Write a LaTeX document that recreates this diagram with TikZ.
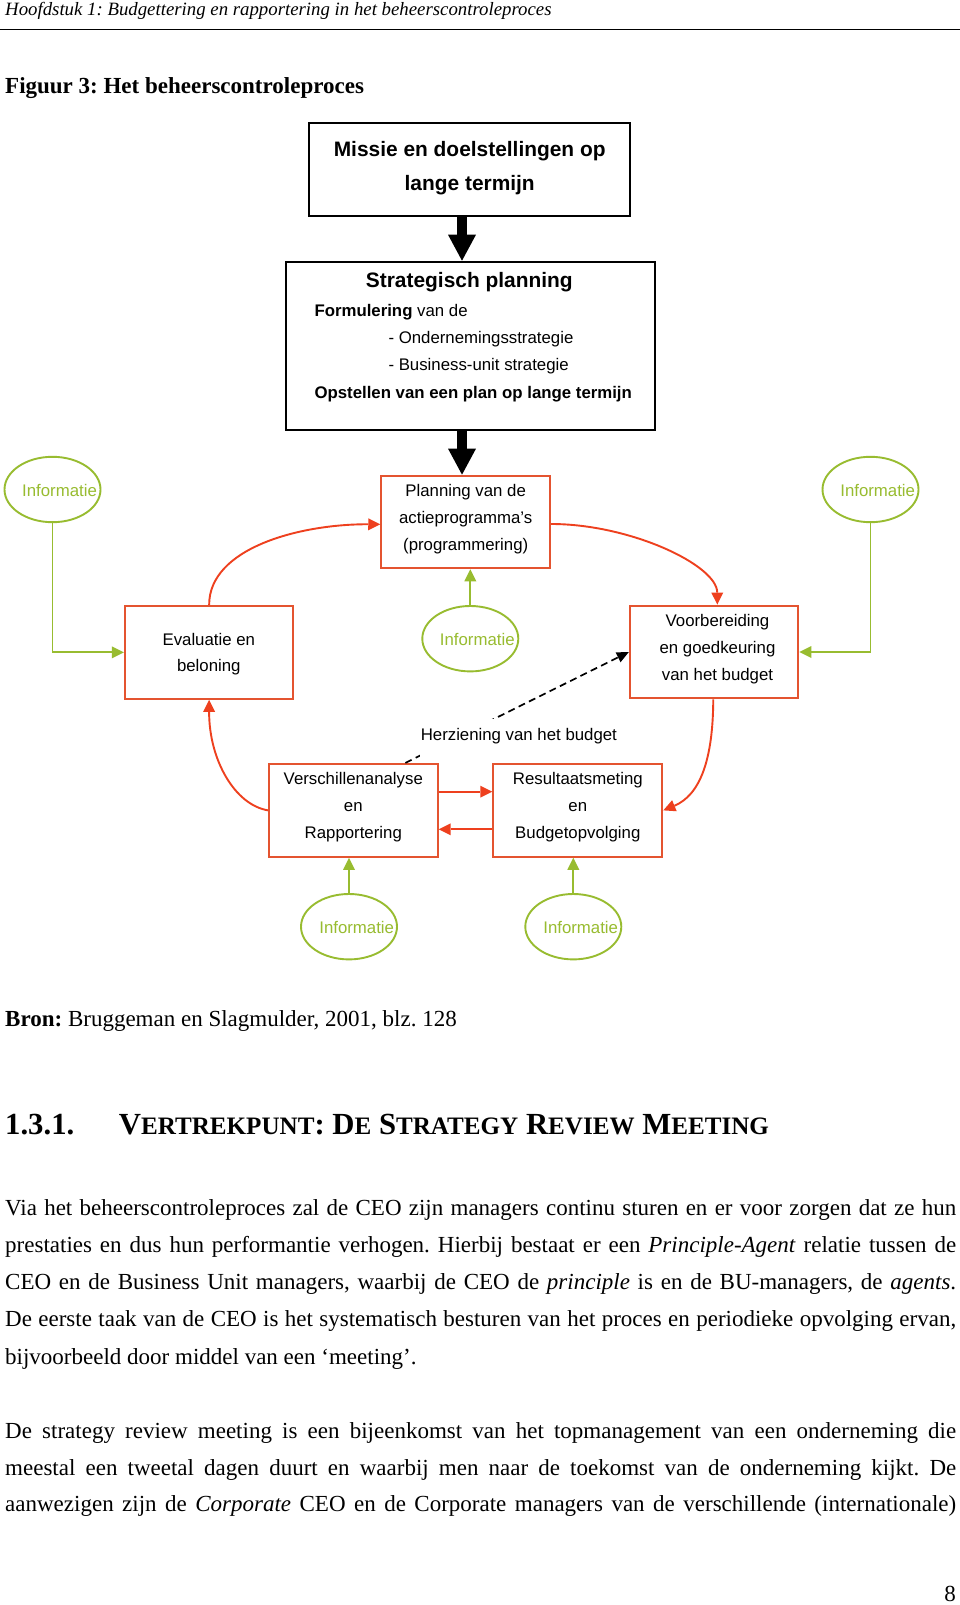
\documentclass[tikz,border=0pt]{standalone}
\usepackage{fontspec}
\setmainfont{Liberation Serif}
\newfontfamily\arialf{Liberation Sans}
\usetikzlibrary{arrows.meta,shapes.geometric,calc}
\definecolor{boxred}{RGB}{228,84,48}
\definecolor{arrred}{RGB}{238,64,30}
\definecolor{infogreen}{RGB}{152,188,48}
\newcommand{\smc}[1]{{\fontsize{25.1pt}{26pt}\selectfont #1}}
\frenchspacing
\begin{document}
\begin{tikzpicture}[x=1pt,y=-1pt,
  box/.style={draw=boxred,line width=2.1pt,minimum width=168.5pt,minimum height=92.8pt,inner sep=0pt},
  blackbox/.style={draw=black,line width=2pt,inner sep=0pt},
  info/.style={ellipse,draw=infogreen,line width=1.9pt,minimum width=96pt,minimum height=65.4pt,inner sep=0pt},
  infotxt/.style={text=infogreen,font=\arialf\fontsize{16.8pt}{20pt}\selectfont,anchor=base,inner sep=0pt},
  btxt/.style={font=\arialf\fontsize{16.8pt}{20pt}\selectfont,anchor=base,inner sep=0pt},
  bigtxt/.style={font=\arialf\bfseries\fontsize{20.9pt}{24pt}\selectfont,anchor=base,inner sep=0pt},
  ltxt/.style={font=\arialf\fontsize{16.8pt}{20pt}\selectfont,anchor=base west,inner sep=0pt},
  serif/.style={font=\fontsize{23pt}{28pt}\selectfont,anchor=base west,inner sep=0pt},
  redarr/.style={draw=arrred,line width=1.9pt,-{Triangle[length=12pt,width=12pt,line width=0pt]}},
  greenarr/.style={draw=infogreen,line width=1.9pt,-{Triangle[length=12pt,width=12pt,line width=0pt]}},
  fatarr/.style={draw=black,line width=10pt,-{Triangle[length=26pt,width=28pt,line width=0pt]}},
]
\useasboundingbox (0,0) rectangle (960,1605);
\fill[white] (0,0) rectangle (960,1605);

% header
\node[anchor=base west,inner sep=0pt,font=\itshape\fontsize{18.8pt}{22pt}\selectfont] (hdr) at (5,15.5) {Hoofdstuk 1: Budgettering en rapportering in het beheerscontroleproces};
\draw[line width=1.5pt] (0,29.7) -- (960,29.7);
\node[serif,font=\bfseries\fontsize{23pt}{28pt}\selectfont] (fig) at (5,94) {Figuur 3: Het beheerscontroleproces};

% top boxes
\node[blackbox,minimum width=320.7pt,minimum height=93.3pt] (missie) at (469.65,169.35) {};
\node[bigtxt] (missie1) at (469.7,156.7) {Missie en doelstellingen op};
\node[bigtxt] (missie2) at (469.7,190.7) {lange termijn};

\node[blackbox,minimum width=369pt,minimum height=168.3pt] (strat) at (470.5,345.85) {};
\node[bigtxt] (strat0) at (469.3,287.3) {Strategisch planning};
\node[ltxt] (strat1) at (314.3,316.7) {\textbf{Formulering} van de};
\node[ltxt] (strat2) at (388.3,343.3) {- Ondernemingsstrategie};
\node[ltxt] (strat3) at (388.3,370) {- Business-unit strategie};
\node[ltxt,font=\arialf\bfseries\fontsize{16.8pt}{20pt}\selectfont] (strat4) at (314.3,398.3) {Opstellen van een plan op lange termijn};

% process boxes
\node[box,minimum width=168.8pt,minimum height=92.6pt] (planning) at (465.7,522) {};
\node[btxt] (plan1) at (465.7,496.7) {Planning van de};
\node[btxt] (plan2) at (465.7,523.3) {actieprogramma’s};
\node[btxt] (plan3) at (465.7,550) {(programmering)};

\node[box] (evalu) at (209.15,652.35) {};
\node[btxt] (eval1) at (208.8,645) {Evaluatie en};
\node[btxt] (eval2) at (208.8,671.6) {beloning};

\node[box] (voorb) at (714.15,652) {};
\node[btxt] (voor1) at (717.5,626.7) {Voorbereiding};
\node[btxt] (voor2) at (717.5,653.3) {en goedkeuring};
\node[btxt] (voor3) at (717.5,680) {van het budget};

\node[box] (verschil) at (353.35,810.35) {};
\node[btxt] (vers1) at (353.3,784.5) {Verschillenanalyse};
\node[btxt] (vers2) at (353.3,811.2) {en};
\node[btxt] (vers3) at (353.3,838) {Rapportering};

\node[box,minimum width=169pt] (result) at (577.8,810.35) {};
\node[btxt] (res1) at (577.8,784.5) {Resultaatsmeting};
\node[btxt] (res2) at (577.8,811.2) {en};
\node[btxt] (res3) at (577.8,838) {Budgetopvolging};

% information ellipses
\node[info] (itl) at (52.5,489.5) {};
\node[infotxt] (itlt) at (59.5,496.7) {Informatie};
\node[info] (itr) at (870.5,489.5) {};
\node[infotxt] (itrt) at (877.7,496.7) {Informatie};
\node[info] (imid) at (470.3,638.7) {};
\node[infotxt] (imidt) at (477.3,645.7) {Informatie};
\node[info] (ibl) at (349,926.7) {};
\node[infotxt] (iblt) at (356.7,933.3) {Informatie};
\node[info] (ibr) at (573.3,926.7) {};
\node[infotxt] (ibrt) at (580.7,933.3) {Informatie};

% thick black arrows
\coordinate (ax) at (462,0);
\draw[fatarr] (missie.south -| ax) -- (strat.north -| ax);
\draw[fatarr] (strat.south -| ax) -- (planning.north -| ax);

% green connectors
\draw[greenarr] (itl.south) |- (evalu.west);
\draw[greenarr] (itr.south) |- (voorb.east);
\draw[greenarr] (imid.north) -- (planning.south -| imid.north);
\draw[greenarr] (ibl.north) -- (verschil.south -| ibl.north);
\draw[greenarr] (ibr.north) -- (result.south -| ibr.north);

% red cycle
\draw[redarr] (evalu.north) .. controls (209,548) and (300,524) .. ([yshift=-2.3pt]planning.west);
\draw[redarr] ([yshift=-2pt]planning.east) .. controls (630,524) and (717,565) .. ([xshift=3.2pt]voorb.north);
\draw[redarr] ([xshift=-0.9pt]voorb.south) .. controls (713,760) and (700,795) .. (result.east);
\draw[redarr] (verschil.west) .. controls (235,805) and (209,760) .. (evalu.south);
\draw[redarr] ([yshift=18.65pt]verschil.east) -- ([yshift=18.65pt]result.west);
\draw[redarr] ([yshift=-18.95pt]result.west) -- ([yshift=-18.95pt]verschil.east);

% dashed revision arrow
\coordinate (dstart) at ([xshift=52pt]verschil.north);
\draw[black,line width=1.7pt,dash pattern=on 7pt off 4.5pt,-{Triangle[length=12pt,width=11pt,line width=0pt]}] (dstart) -- (voorb.west);
\node[fill=white,anchor=base,inner xsep=1pt,inner ysep=0pt,text height=21pt,text depth=17pt,font=\arialf\fontsize{16.8pt}{20pt}\selectfont] (herz) at (518.85,740) {Herziening van het budget};

% source and text
\node[serif] (bron) at (5,1026) {\textbf{Bron:} Bruggeman en Slagmulder, 2001, blz. 128};
\node[anchor=base west,inner sep=0pt,font=\bfseries\fontsize{30.7pt}{32pt}\selectfont] (secnum) at (5,1134) {1.3.1.};
\node[anchor=base west,inner sep=0pt,font=\bfseries\fontsize{30.7pt}{32pt}\selectfont] (sectitle) at (118.7,1134) {V\smc{ERTREKPUNT}: D\smc{E} S\smc{TRATEGY} R\smc{EVIEW} M\smc{EETING}};

\node[serif] (p1) at (5,1215) {\makebox[951pt][s]{Via het beheerscontroleproces zal de CEO zijn managers continu sturen en er voor zorgen dat ze hun}};
\node[serif] (p2) at (5,1252.3) {\makebox[951pt][s]{prestaties en dus hun performantie verhogen. Hierbij bestaat er een \textit{Principle-Agent} relatie tussen de}};
\node[serif] (p3) at (5,1289.5) {\makebox[951pt][s]{CEO en de Business Unit managers, waarbij de CEO de \textit{principle} is en de BU-managers, de \textit{agents}.}};
\node[serif] (p4) at (5,1326.8) {\makebox[951pt][s]{De eerste taak van de CEO is het systematisch besturen van het proces en periodieke opvolging ervan,}};
\node[serif] (p5) at (5,1364) {bijvoorbeeld door middel van een ‘meeting’.};
\node[serif] (q1) at (5,1438) {\makebox[951pt][s]{De strategy review meeting is een bijeenkomst van het topmanagement van een onderneming die}};
\node[serif] (q2) at (5,1475.2) {\makebox[951pt][s]{meestal een tweetal dagen duurt en waarbij men naar de toekomst van de onderneming kijkt. De}};
\node[serif] (q3) at (5,1511.5) {\makebox[951pt][s]{aanwezigen zijn de \textit{Corporate} CEO en de Corporate managers van de verschillende (internationale)}};
\node[serif,anchor=base east] (pagenum) at (956,1601) {8};
\end{tikzpicture}
\end{document}
